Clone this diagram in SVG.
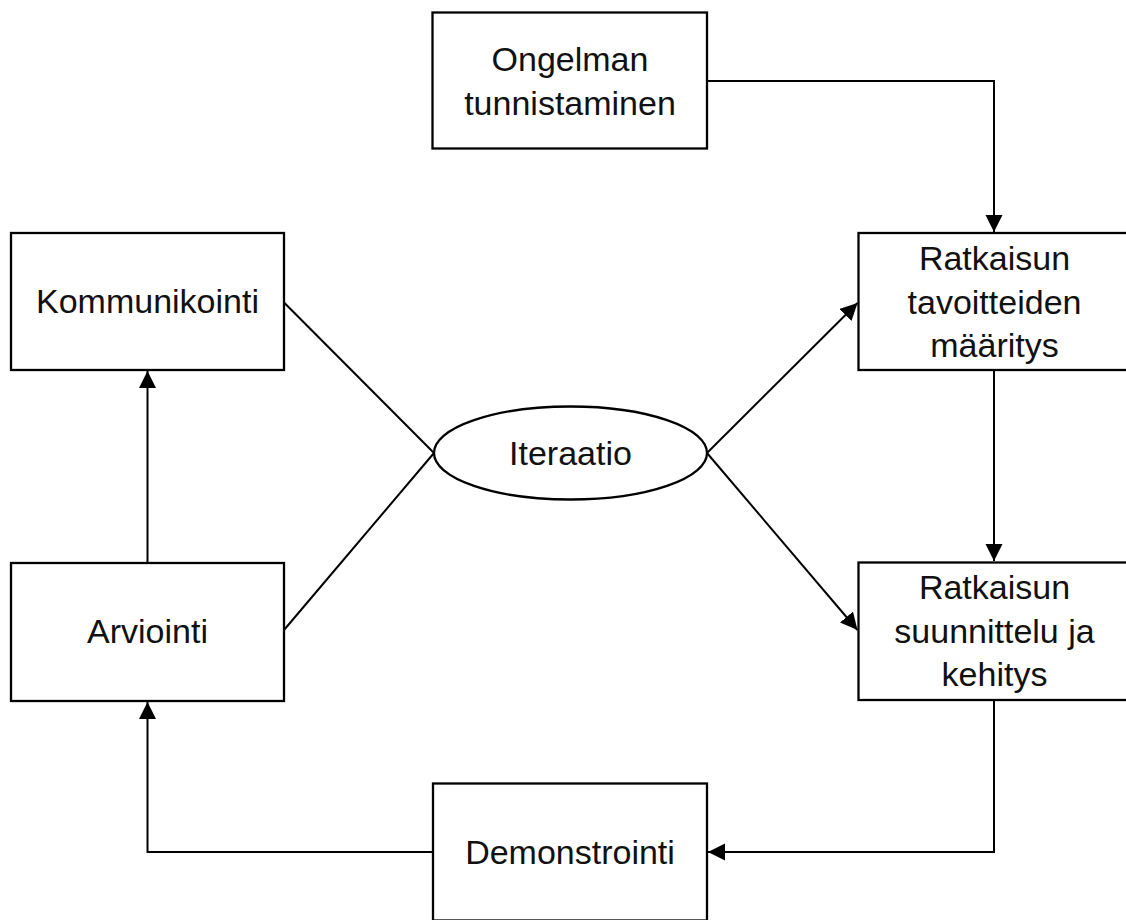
<svg xmlns="http://www.w3.org/2000/svg" width="1126" height="920" viewBox="0 0 1126 920">
<style>
.box{fill:#fff;stroke:#000;stroke-width:2.3}
.lbl{font-family:"Liberation Sans",Arial,sans-serif;font-size:34px;fill:#111;text-anchor:middle}
.conn{fill:none;stroke:#000;stroke-width:2}
</style>
<defs>
<marker id="ah" markerUnits="userSpaceOnUse" markerWidth="18" markerHeight="18" refX="17" refY="8.5" orient="auto" viewBox="0 0 18 18">
<path d="M0,0 L17,8.5 L0,17 z" fill="#000"/>
</marker>
</defs>
<rect width="1126" height="920" fill="#fff"/>
<g id="connectors">
<polyline class="conn" points="707,81 994,81 994,232" marker-end="url(#ah)"/>
<line class="conn" x1="994" y1="370" x2="994" y2="561" marker-end="url(#ah)"/>
<polyline class="conn" points="994,700 994,852 708,852" marker-end="url(#ah)"/>
<polyline class="conn" points="433,852 147.5,852 147.5,702" marker-end="url(#ah)"/>
<line class="conn" x1="147.5" y1="562" x2="147.5" y2="371" marker-end="url(#ah)"/>
<line class="conn" x1="284" y1="302.5" x2="434" y2="453"/>
<line class="conn" x1="284" y1="630" x2="434" y2="453"/>
<line class="conn" x1="707" y1="453" x2="857.5" y2="303" marker-end="url(#ah)"/>
<line class="conn" x1="707" y1="453" x2="857.5" y2="630" marker-end="url(#ah)"/>
</g>
<g id="ongelman">
<rect class="box" x="432.5" y="12.5" width="274.5" height="136"/>
<text class="lbl" x="570" y="71">Ongelman</text>
<text class="lbl" x="570" y="115">tunnistaminen</text>
</g>
<g id="kommunikointi">
<rect class="box" x="11" y="233" width="273" height="137"/>
<text class="lbl" x="147.5" y="313">Kommunikointi</text>
</g>
<g id="arviointi">
<rect class="box" x="11" y="563" width="273" height="138"/>
<text class="lbl" x="147.5" y="643">Arviointi</text>
</g>
<g id="tavoitteet">
<rect class="box" x="858.5" y="233" width="273" height="137"/>
<text class="lbl" x="994.5" y="270">Ratkaisun</text>
<text class="lbl" x="994.5" y="314">tavoitteiden</text>
<text class="lbl" x="994.5" y="357">määritys</text>
</g>
<g id="suunnittelu">
<rect class="box" x="858.5" y="562.5" width="273" height="137.5"/>
<text class="lbl" x="994.5" y="599">Ratkaisun</text>
<text class="lbl" x="994.5" y="643">suunnittelu ja</text>
<text class="lbl" x="994.5" y="686">kehitys</text>
</g>
<g id="demonstrointi">
<rect class="box" x="433" y="783.5" width="274" height="137"/>
<text class="lbl" x="570" y="864">Demonstrointi</text>
</g>
<g id="iteraatio">
<ellipse class="box" cx="570.5" cy="453" rx="136.5" ry="46.5"/>
<text class="lbl" x="570.5" y="465">Iteraatio</text>
</g>
</svg>
